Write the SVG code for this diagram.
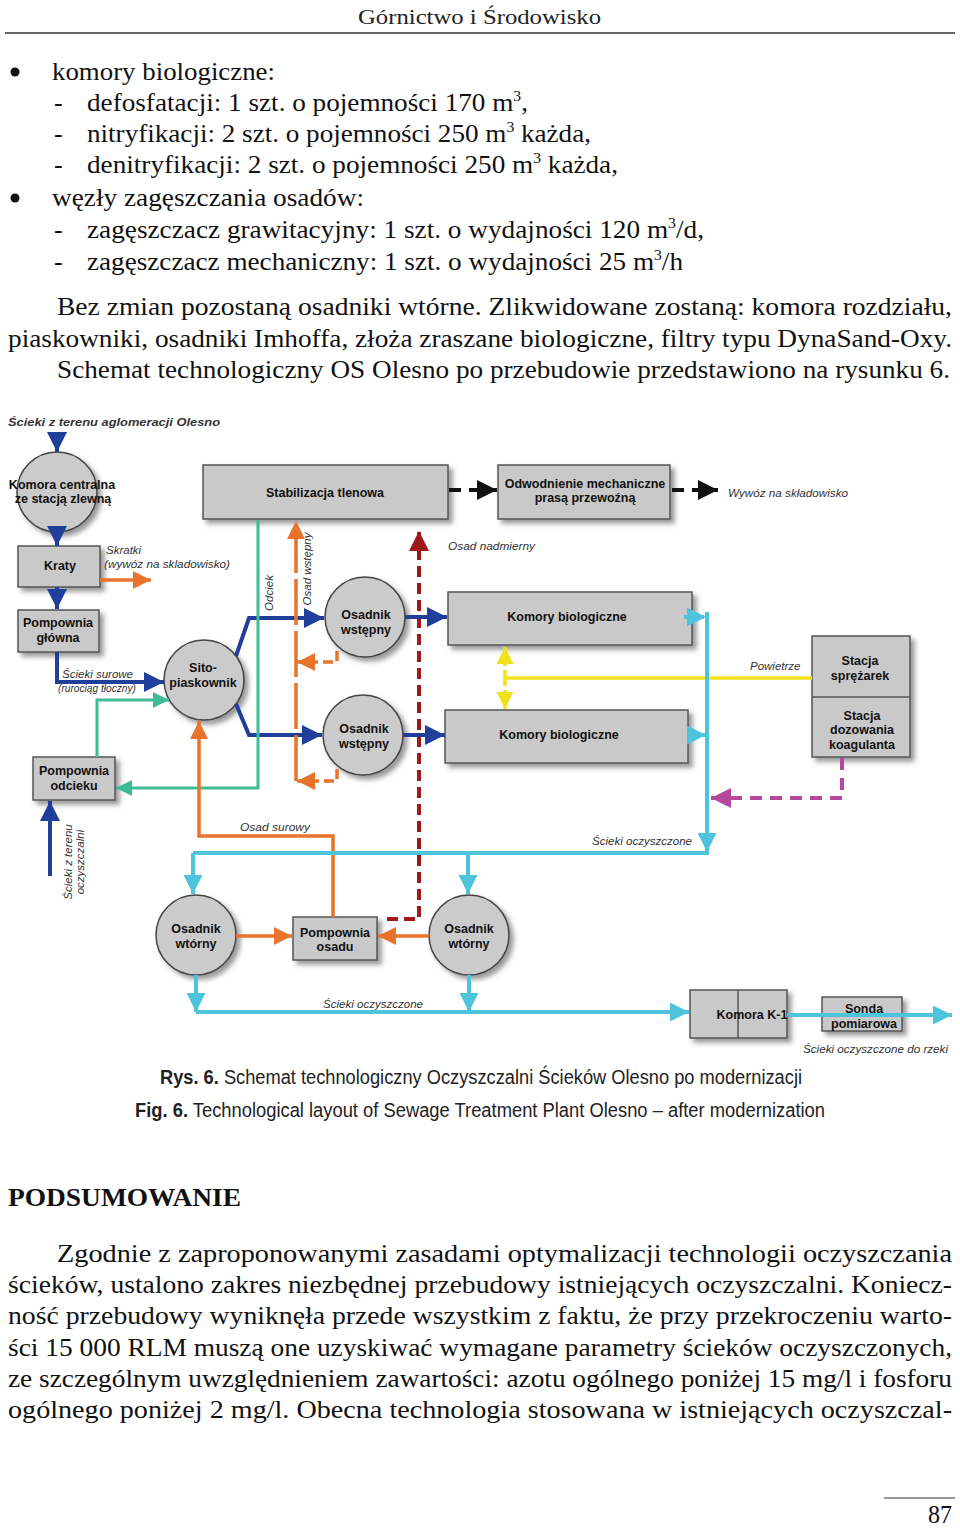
<svg xmlns="http://www.w3.org/2000/svg" width="960" height="1528" viewBox="0 0 960 1528">
<defs>
<style>
.bt{font-family:"Liberation Serif","Times New Roman",serif;font-size:26px;fill:#111}
.hd{font-family:"Liberation Serif","Times New Roman",serif;font-size:22px;fill:#222}
.cap{font-family:"Liberation Sans",Arial,sans-serif;font-size:20px;fill:#222}
.nl{font-family:"Liberation Sans",Arial,sans-serif;font-size:12.5px;font-weight:bold;fill:#111;text-anchor:middle}
.il{font-family:"Liberation Sans",Arial,sans-serif;font-size:11.5px;font-style:italic;fill:#333}
.box{fill:#c9c9c9;stroke:#555;stroke-width:1.5}
.cir{fill:#cbcbcb;stroke:#444;stroke-width:1.5}
.c{fill:none}
.blue{stroke:#1f3f9a;stroke-width:4}
.org{stroke:#e8732a;stroke-width:3.5}
.teal{stroke:#3dbb94;stroke-width:3}
.cyan{stroke:#4ec3dc;stroke-width:4}
.yel{stroke:#f2e21c;stroke-width:3.5}
.red{stroke:#9e1a1a;stroke-width:4;stroke-dasharray:11 6}
.mag{stroke:#b5479e;stroke-width:4;stroke-dasharray:12 8}
.blk{stroke:#111;stroke-width:4;stroke-dasharray:12 8}
</style>
<filter id="sh" x="-20%" y="-20%" width="150%" height="150%">
<feDropShadow dx="4" dy="4" stdDeviation="2.5" flood-color="#555" flood-opacity="0.6"/>
</filter>
<marker id="mb" viewBox="0 0 10 10" refX="10" refY="5" markerWidth="20" markerHeight="20" markerUnits="userSpaceOnUse" orient="auto"><path d="M0,0 L10,5 L0,10 z" fill="#1f3f9a"/></marker>
<marker id="mo" viewBox="0 0 10 10" refX="10" refY="5" markerWidth="18" markerHeight="18" markerUnits="userSpaceOnUse" orient="auto"><path d="M0,0 L10,5 L0,10 z" fill="#e8732a"/></marker>
<marker id="mt" viewBox="0 0 10 10" refX="10" refY="5" markerWidth="16" markerHeight="16" markerUnits="userSpaceOnUse" orient="auto"><path d="M0,0 L10,5 L0,10 z" fill="#3dbb94"/></marker>
<marker id="mc" viewBox="0 0 10 10" refX="10" refY="5" markerWidth="19" markerHeight="19" markerUnits="userSpaceOnUse" orient="auto"><path d="M0,0 L10,5 L0,10 z" fill="#4ec3dc"/></marker>
<marker id="my" viewBox="0 0 10 10" refX="10" refY="5" markerWidth="17" markerHeight="17" markerUnits="userSpaceOnUse" orient="auto"><path d="M0,0 L10,5 L0,10 z" fill="#f2e21c"/></marker>
<marker id="mr" viewBox="0 0 10 10" refX="10" refY="5" markerWidth="20" markerHeight="20" markerUnits="userSpaceOnUse" orient="auto"><path d="M0,0 L10,5 L0,10 z" fill="#9e1a1a"/></marker>
<marker id="mm" viewBox="0 0 10 10" refX="10" refY="5" markerWidth="20" markerHeight="20" markerUnits="userSpaceOnUse" orient="auto"><path d="M0,0 L10,5 L0,10 z" fill="#b5479e"/></marker>
<marker id="mk" viewBox="0 0 10 10" refX="10" refY="5" markerWidth="20" markerHeight="20" markerUnits="userSpaceOnUse" orient="auto"><path d="M0,0 L10,5 L0,10 z" fill="#111"/></marker>
</defs>
<rect width="960" height="1528" fill="#fff"/>

<g id="page-text">
<text class="hd" x="358" y="24" textLength="243" lengthAdjust="spacingAndGlyphs">Górnictwo i Środowisko</text>
<line x1="5" y1="33" x2="955" y2="33" stroke="#333" stroke-width="1.5"/>
<circle cx="15" cy="72" r="4.5" fill="#111"/>
<text class="bt" x="52" y="80" textLength="223" lengthAdjust="spacingAndGlyphs">komory biologiczne:</text>
<text class="bt" x="54" y="111">-</text>
<text class="bt" x="87" y="111" textLength="441" lengthAdjust="spacingAndGlyphs">defosfatacji: 1 szt. o pojemności 170 m<tspan dy="-10" font-size="15">3</tspan><tspan dy="10">,</tspan></text>
<text class="bt" x="54" y="142">-</text>
<text class="bt" x="87" y="142" textLength="504" lengthAdjust="spacingAndGlyphs">nitryfikacji: 2 szt. o pojemności 250 m<tspan dy="-10" font-size="15">3</tspan><tspan dy="10"> każda,</tspan></text>
<text class="bt" x="54" y="173">-</text>
<text class="bt" x="87" y="173" textLength="531" lengthAdjust="spacingAndGlyphs">denitryfikacji: 2 szt. o pojemności 250 m<tspan dy="-10" font-size="15">3</tspan><tspan dy="10"> każda,</tspan></text>
<circle cx="15" cy="198" r="4.5" fill="#111"/>
<text class="bt" x="52" y="206" textLength="312" lengthAdjust="spacingAndGlyphs">węzły zagęszczania osadów:</text>
<text class="bt" x="54" y="238">-</text>
<text class="bt" x="87" y="238" textLength="617" lengthAdjust="spacingAndGlyphs">zagęszczacz grawitacyjny: 1 szt. o wydajności 120 m<tspan dy="-10" font-size="15">3</tspan><tspan dy="10">/d,</tspan></text>
<text class="bt" x="54" y="270">-</text>
<text class="bt" x="87" y="270" textLength="596" lengthAdjust="spacingAndGlyphs">zagęszczacz mechaniczny: 1 szt. o wydajności 25 m<tspan dy="-10" font-size="15">3</tspan><tspan dy="10">/h</tspan></text>
<text class="bt" x="57" y="315" textLength="895" lengthAdjust="spacingAndGlyphs">Bez zmian pozostaną osadniki wtórne. Zlikwidowane zostaną: komora rozdziału,</text>
<text class="bt" x="8" y="347" textLength="944" lengthAdjust="spacingAndGlyphs">piaskowniki, osadniki Imhoffa, złoża zraszane biologiczne, filtry typu DynaSand-Oxy.</text>
<text class="bt" x="57" y="378" textLength="893" lengthAdjust="spacingAndGlyphs">Schemat technologiczny OS Olesno po przebudowie przedstawiono na rysunku 6.</text>

<text class="cap" x="160" y="1084" textLength="642" lengthAdjust="spacingAndGlyphs"><tspan font-weight="bold">Rys. 6.</tspan> Schemat technologiczny Oczyszczalni Ścieków Olesno po modernizacji</text>
<text class="cap" x="135" y="1117" textLength="690" lengthAdjust="spacingAndGlyphs"><tspan font-weight="bold">Fig. 6.</tspan> Technological layout of Sewage Treatment Plant Olesno – after modernization</text>

<text class="bt" x="8" y="1206" font-weight="bold" textLength="233" lengthAdjust="spacingAndGlyphs">PODSUMOWANIE</text>
<text class="bt" x="57" y="1262" textLength="895" lengthAdjust="spacingAndGlyphs">Zgodnie z zaproponowanymi zasadami optymalizacji technologii oczyszczania</text>
<text class="bt" x="8" y="1293" textLength="944" lengthAdjust="spacingAndGlyphs">ścieków, ustalono zakres niezbędnej przebudowy istniejących oczyszczalni. Koniecz-</text>
<text class="bt" x="8" y="1324" textLength="944" lengthAdjust="spacingAndGlyphs">ność przebudowy wyniknęła przede wszystkim z faktu, że przy przekroczeniu warto-</text>
<text class="bt" x="8" y="1356" textLength="944" lengthAdjust="spacingAndGlyphs">ści 15 000 RLM muszą one uzyskiwać wymagane parametry ścieków oczyszczonych,</text>
<text class="bt" x="8" y="1387" textLength="944" lengthAdjust="spacingAndGlyphs">ze szczególnym uwzględnieniem zawartości: azotu ogólnego poniżej 15 mg/l i fosforu</text>
<text class="bt" x="8" y="1418" textLength="944" lengthAdjust="spacingAndGlyphs">ogólnego poniżej 2 mg/l. Obecna technologia stosowana w istniejących oczyszczal-</text>
<line x1="884" y1="1498" x2="955" y2="1498" stroke="#333" stroke-width="1.2"/>
<text class="bt" x="928" y="1523" font-size="24" textLength="24" lengthAdjust="spacingAndGlyphs">87</text>
</g>

<g id="labels">
<text class="il" x="8" y="426" font-weight="bold" textLength="212" lengthAdjust="spacingAndGlyphs">Ścieki z terenu aglomeracji Olesno</text>
<text class="il" x="106" y="554">Skratki</text>
<text class="il" x="104" y="568" textLength="126" lengthAdjust="spacingAndGlyphs">(wywóz na skladowisko)</text>
<text class="il" x="62" y="678" textLength="71" lengthAdjust="spacingAndGlyphs">Ścieki surowe</text>
<text class="il" x="58" y="692" font-size="10.5" textLength="78" lengthAdjust="spacingAndGlyphs">(rurociąg tłoczny)</text>
<text class="il" transform="translate(273,593) rotate(-90)" text-anchor="middle">Odciek</text>
<text class="il" transform="translate(311,569) rotate(-90)" text-anchor="middle">Osad wstępny</text>
<text class="il" transform="translate(72,862) rotate(-90)" text-anchor="middle">Ścieki z terenu</text>
<text class="il" transform="translate(84,862) rotate(-90)" text-anchor="middle">oczyszczalni</text>
<text class="il" x="728" y="497" textLength="120" lengthAdjust="spacingAndGlyphs">Wywóz na składowisko</text>
<text class="il" x="448" y="550" textLength="87" lengthAdjust="spacingAndGlyphs">Osad nadmierny</text>
<text class="il" x="750" y="670">Powietrze</text>
<text class="il" x="240" y="831" textLength="70" lengthAdjust="spacingAndGlyphs">Osad surowy</text>
<text class="il" x="592" y="845" textLength="100" lengthAdjust="spacingAndGlyphs">Ścieki oczyszczone</text>
<text class="il" x="323" y="1008" textLength="100" lengthAdjust="spacingAndGlyphs">Ścieki oczyszczone</text>
<text class="il" x="803" y="1053" textLength="145" lengthAdjust="spacingAndGlyphs">Ścieki oczyszczone do rzeki</text>
</g>

<g id="n-komora-centralna">
<circle class="cir" cx="57" cy="492" r="40" filter="url(#sh)"/>
<text class="nl" x="62" y="489">Komora centralna</text>
<text class="nl" x="63" y="503">ze stacją zlewną</text>
</g>
<g id="n-kraty">
<rect class="box" x="18" y="546" width="82" height="41" filter="url(#sh)"/>
<text class="nl" x="60" y="570">Kraty</text>
</g>
<g id="n-pompownia-glowna">
<rect class="box" x="18" y="610" width="81" height="42" filter="url(#sh)"/>
<text class="nl" x="58" y="627">Pompownia</text>
<text class="nl" x="58" y="642">główna</text>
</g>
<g id="n-pompownia-odcieku">
<rect class="box" x="33" y="757" width="82" height="43" filter="url(#sh)"/>
<text class="nl" x="74" y="775">Pompownia</text>
<text class="nl" x="74" y="790">odcieku</text>
</g>
<g id="n-sito">
<circle class="cir" cx="204" cy="680" r="40" filter="url(#sh)"/>
<text class="nl" x="203" y="672">Sito-</text>
<text class="nl" x="203" y="687">piaskownik</text>
</g>
<g id="n-stabilizacja">
<rect class="box" x="203" y="465" width="245" height="54" filter="url(#sh)"/>
<text class="nl" x="325" y="497">Stabilizacja tlenowa</text>
</g>
<g id="n-odwodnienie">
<rect class="box" x="498" y="465" width="172" height="54" filter="url(#sh)"/>
<text class="nl" x="585" y="488">Odwodnienie mechaniczne</text>
<text class="nl" x="585" y="502">prasą przewoźną</text>
</g>
<g id="n-osadnik-wstepny-1">
<circle class="cir" cx="365" cy="617" r="40" filter="url(#sh)"/>
<text class="nl" x="366" y="619">Osadnik</text>
<text class="nl" x="366" y="634">wstępny</text>
</g>
<g id="n-osadnik-wstepny-2">
<circle class="cir" cx="363" cy="735" r="40" filter="url(#sh)"/>
<text class="nl" x="364" y="733">Osadnik</text>
<text class="nl" x="364" y="748">wstępny</text>
</g>
<g id="n-komory-1">
<rect class="box" x="448" y="592" width="244" height="53" filter="url(#sh)"/>
<text class="nl" x="567" y="621">Komory biologiczne</text>
</g>
<g id="n-komory-2">
<rect class="box" x="445" y="710" width="243" height="53" filter="url(#sh)"/>
<text class="nl" x="559" y="739">Komory biologiczne</text>
</g>
<g id="n-stacje">
<rect class="box" x="812" y="636" width="98" height="121" filter="url(#sh)"/>
<line x1="812" y1="697" x2="910" y2="697" stroke="#555" stroke-width="1.5"/>
<text class="nl" x="860" y="665">Stacja</text>
<text class="nl" x="860" y="680">sprężarek</text>
<text class="nl" x="862" y="720">Stacja</text>
<text class="nl" x="862" y="734">dozowania</text>
<text class="nl" x="862" y="749">koagulanta</text>
</g>
<g id="n-osadnik-wtorny-1">
<circle class="cir" cx="196" cy="935" r="40" filter="url(#sh)"/>
<text class="nl" x="196" y="933">Osadnik</text>
<text class="nl" x="196" y="948">wtórny</text>
</g>
<g id="n-pompownia-osadu">
<rect class="box" x="293" y="917" width="84" height="43" filter="url(#sh)"/>
<text class="nl" x="335" y="937">Pompownia</text>
<text class="nl" x="335" y="951">osadu</text>
</g>
<g id="n-osadnik-wtorny-2">
<circle class="cir" cx="469" cy="935" r="40" filter="url(#sh)"/>
<text class="nl" x="469" y="933">Osadnik</text>
<text class="nl" x="469" y="948">wtórny</text>
</g>
<g id="n-komora-k1">
<rect class="box" x="690" y="990" width="97" height="48" filter="url(#sh)"/>
<line x1="738" y1="990" x2="738" y2="1038" stroke="#555" stroke-width="1.5"/>
<text class="nl" x="752" y="1019">Komora K-1</text>
</g>
<g id="n-sonda">
<rect class="box" x="822" y="997" width="80" height="34" filter="url(#sh)"/>
<text class="nl" x="864" y="1013">Sonda</text>
<text class="nl" x="864" y="1028">pomiarowa</text>
</g>

<g id="connectors">
<path class="c red" d="M387,919 L419,919 L419,531" marker-end="url(#mr)"/>
<path class="c blue" d="M57,432 L57,452" marker-end="url(#mb)"/>
<path class="c blue" d="M57,532 L57,546" marker-end="url(#mb)"/>
<path class="c blue" d="M57,587 L57,609" marker-end="url(#mb)"/>
<path class="c blue" d="M57,652 L57,682 L164,682" marker-end="url(#mb)"/>
<path class="c blue" d="M236,656 L249,618 L324,618" marker-end="url(#mb)"/>
<path class="c blue" d="M236,704 L249,735 L322,735" marker-end="url(#mb)"/>
<path class="c blue" d="M405,617 L447,617" marker-end="url(#mb)"/>
<path class="c blue" d="M403,735 L445,735" marker-end="url(#mb)"/>
<path class="c blue" d="M50,876 L50,801" marker-end="url(#mb)"/>
<path class="c teal" d="M258,520 L258,788 L116,788" marker-end="url(#mt)"/>
<path class="c teal" d="M97,757 L97,700 L169,700" marker-end="url(#mt)"/>
<path class="c org" d="M100,580 L151,580" marker-end="url(#mo)"/>
<path class="c org" d="M333,917 L333,836 L199,836 L199,721" marker-end="url(#mo)"/>
<path class="c org" d="M236,936 L292,936" marker-end="url(#mo)"/>
<path class="c org" d="M429,936 L378,936" marker-end="url(#mo)"/>
<path class="c org" d="M296,781 L296,521" stroke-dasharray="46 6" marker-end="url(#mo)"/>
<path class="c org" d="M337,651 L337,662 L297,662" stroke-dasharray="10 5" marker-end="url(#mo)"/>
<path class="c org" d="M337,769 L337,781 L297,781" stroke-dasharray="10 5" marker-end="url(#mo)"/>
<path class="c blk" d="M449,490 L497,490" marker-end="url(#mk)"/>
<path class="c blk" d="M672,490 L718,490" marker-end="url(#mk)"/>
<path class="c yel" d="M505,678 L812,678"/>
<path class="c yel" d="M505,678 L505,647" stroke-dasharray="8 4" marker-end="url(#my)"/>
<path class="c yel" d="M505,678 L505,709" stroke-dasharray="8 4" marker-end="url(#my)"/>
<path class="c cyan" d="M684,617 L706,617" stroke-dasharray="8 4" marker-end="url(#mc)"/>
<path class="c cyan" d="M689,735 L706,735" stroke-dasharray="8 4" marker-end="url(#mc)"/>
<path class="c cyan" d="M707,612 L707,852" marker-end="url(#mc)"/>
<path class="c cyan" d="M193,853 L709,853"/>
<path class="c cyan" d="M193,853 L193,894" marker-end="url(#mc)"/>
<path class="c cyan" d="M468,853 L468,894" marker-end="url(#mc)"/>
<path class="c cyan" d="M196,975 L196,1012" marker-end="url(#mc)"/>
<path class="c cyan" d="M469,975 L469,1012" marker-end="url(#mc)"/>
<path class="c cyan" d="M196,1012 L689,1012" marker-end="url(#mc)"/>
<path class="c cyan" d="M787,1015 L952,1015" marker-end="url(#mc)"/>
<path class="c mag" d="M842,758 L842,798 L711,798" marker-end="url(#mm)"/>
</g>
</svg>
